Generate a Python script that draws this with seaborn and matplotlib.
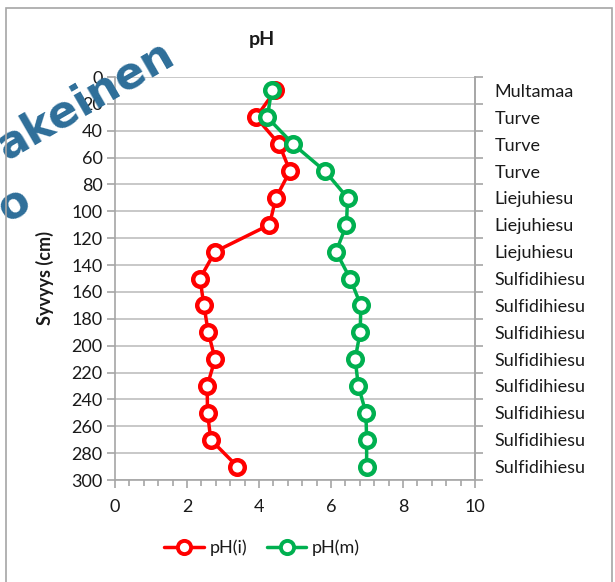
import matplotlib
matplotlib.use("Agg")
import matplotlib.pyplot as plt
import seaborn as sns
import pandas as pd
import numpy as np
from matplotlib.ticker import MultipleLocator, FixedLocator

depth = [10, 30, 50, 70, 90, 110, 130, 150, 170, 190, 210, 230, 250, 270, 290]
ph_i = [4.45, 3.92, 4.56, 4.86, 4.47, 4.29, 2.78, 2.36, 2.47, 2.59, 2.78, 2.56, 2.57, 2.66, 3.40]
ph_m = [4.35, 4.23, 4.95, 5.83, 6.46, 6.43, 6.14, 6.53, 6.83, 6.81, 6.67, 6.76, 6.97, 6.99, 6.99]
soil = ["Multamaa", "Turve", "Turve", "Turve", "Liejuhiesu", "Liejuhiesu", "Liejuhiesu",
        "Sulfidihiesu", "Sulfidihiesu", "Sulfidihiesu", "Sulfidihiesu", "Sulfidihiesu",
        "Sulfidihiesu", "Sulfidihiesu", "Sulfidihiesu"]
series_names = ["pH(i)", "pH(m)"]
colors = ["#FF0000", "#00B050"]

df = pd.concat([
    pd.DataFrame({"pH": ph_i, "Syvyys": depth, "sarja": series_names[0]}),
    pd.DataFrame({"pH": ph_m, "Syvyys": depth, "sarja": series_names[1]}),
])

sns.set_style("white")
plt.rcParams["font.family"] = ["Lato", "DejaVu Sans"]
txt = "#1a1a1a"
fs = 13

fig = plt.figure(figsize=(6.15, 5.82), dpi=100)

# watermark fragments (cut by the chart edge, as in the original)
wm = "#2E6E99"
fig.text(85/615, 1 - 100/582, "akeinen", fontsize=32, fontweight="bold", color=wm,
         rotation=30, ha="center", va="center", family="DejaVu Sans", zorder=0)
fig.text(14/615, 1 - 205/582, "o", fontsize=32, fontweight="bold", color=wm,
         rotation=30, ha="center", va="center", family="DejaVu Sans", zorder=0)

ax = fig.add_axes([115/615, 1 - 480/582, 360/615, 403/582])
ax.patch.set_alpha(0)

sns.lineplot(data=df, x="pH", y="Syvyys", hue="sarja", palette=colors, orient="y",
             sort=False, estimator=None, marker="o", markersize=10.5, markerfacecolor="white",
             markeredgewidth=3.2, linewidth=2.5, ax=ax, legend=False)
for line, c in zip(ax.lines, colors):
    line.set_markeredgecolor(c)

ax.set_xlim(0, 10)
ax.set_ylim(300, 0)
ax.xaxis.set_major_locator(MultipleLocator(2))
ax.xaxis.set_minor_locator(MultipleLocator(0.4))
ax.yaxis.set_major_locator(MultipleLocator(20))
ax.grid(axis="y", color="#BFBFBF", linewidth=1.2)
ax.grid(axis="x", visible=False)
ax.spines["top"].set_visible(False)
for s in ["left", "bottom", "right"]:
    ax.spines[s].set_color("#A6A6A6")
    ax.spines[s].set_linewidth(1.2)
ax.tick_params(axis="x", which="major", length=6, color="#A6A6A6", width=1.2, labelsize=fs, pad=8, labelcolor=txt, bottom=True)
ax.tick_params(axis="x", which="minor", length=4, color="#A6A6A6", width=1.2, bottom=True)
ax.tick_params(axis="y", which="major", length=6, color="#A6A6A6", width=1.2, labelsize=fs, pad=3, labelcolor=txt, left=True)
ax.set_xlabel("")
ax.set_ylabel("")
fig.text(45/615, 1 - 278/582, "Syvyys (cm)", fontsize=fs, fontweight="bold", color=txt,
         rotation=90, ha="center", va="center")
fig.text(262/615, 1 - 40/582, "pH", fontsize=14, fontweight="bold", color=txt,
         ha="center", va="center")

ax2 = ax.twinx()
ax2.set_ylim(300, 0)
ax2.yaxis.set_major_locator(FixedLocator(depth))
ax2.set_yticklabels(soil)
ax2.yaxis.set_minor_locator(MultipleLocator(20))
ax2.tick_params(axis="y", which="major", length=0, labelsize=fs, pad=14, labelcolor=txt)
ax2.tick_params(axis="y", which="minor", length=6, color="#A6A6A6", width=1.2, right=True)
for s in ["top", "left", "bottom"]:
    ax2.spines[s].set_visible(False)
ax2.spines["right"].set_color("#A6A6A6")
ax2.spines["right"].set_linewidth(1.2)

handles = [plt.Line2D([0], [0], color=c, linewidth=2.5, marker="o", markersize=9.5,
                      markerfacecolor="white", markeredgecolor=c, markeredgewidth=2.8)
           for c in colors]
fig.legend(handles, series_names, loc="center", bbox_to_anchor=(262/615, 1 - 548/582),
           ncol=2, frameon=False, fontsize=fs, handlelength=2.2, columnspacing=1.1,
           handletextpad=0.3, labelcolor=txt)

# outer chart border
fig.patches.append(plt.Rectangle((6/615, -0.01), (612-6)/615, 1 - 8/582 + 0.01, transform=fig.transFigure,
                                 fill=False, edgecolor="#A6A6A6", linewidth=1.2))

fig.savefig("out.png", dpi=100)
